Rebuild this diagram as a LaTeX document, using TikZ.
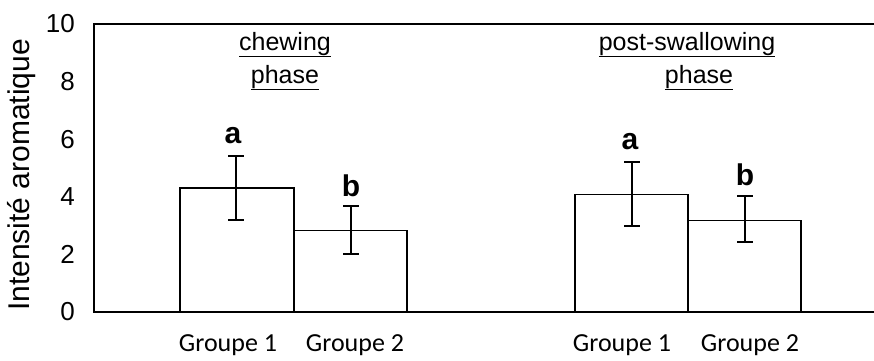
\documentclass[tikz,border=0pt]{standalone}
\usepackage{fontspec}
\setmainfont{Liberation Sans}
\newfontfamily\arialfont{Liberation Sans}
\newfontfamily\groupfont{Carlito}
\usepackage{tikz}
\usetikzlibrary{positioning}
\tikzstyle{axis} = [line width=1.6pt]
\tikzstyle{bar} = [draw, line width=1.4pt, fill=white]
\tikzstyle{errbar} = [line width=2.2pt]
\tikzstyle{ticklabel} = [anchor=east, inner sep=0pt, font=\arialfont\fontsize{26}{30}\selectfont]
\tikzstyle{letter} = [anchor=base, inner sep=0pt, font=\arialfont\bfseries\fontsize{30}{34}\selectfont]
\tikzstyle{phase} = [anchor=base, inner sep=0pt, font=\arialfont\fontsize{25}{29}\selectfont]
\tikzstyle{group} = [inner sep=0pt, font=\groupfont\fontsize{26}{30}\selectfont]

\begin{document}
\begin{tikzpicture}[x=1pt, y=1pt]
    \useasboundingbox (0,0) rectangle (874,360);
    % Axis label
    \node (ylabel) [rotate=90, font=\arialfont\fontsize{30}{34}\selectfont] at (22,185) {Intensité aromatique};
    \begin{scope}[shift={(94,48)}, y=28.8pt]
        % Frame
        \draw [axis] (780,10) -- (0,10) -- (0,0) -- (780,0);
        % Tick labels
        \node (t0) [ticklabel] at (-19,0) {0};
        \node (t2) [ticklabel] at (-19,2) {2};
        \node (t4) [ticklabel] at (-19,4) {4};
        \node (t6) [ticklabel] at (-19,6) {6};
        \node (t8) [ticklabel] at (-19,8) {8};
        \node (t10) [ticklabel] at (-19,10) {10};
        % Bars
        \draw [bar] (86,0) rectangle (200,4.30);
        \draw [bar] (200,0) rectangle (313,2.82);
        \draw [bar] (481,0) rectangle (594,4.09);
        \draw [bar] (594,0) rectangle (707,3.18);
        % Error bars
        \coordinate (c1lo) at (142,3.19);
        \coordinate (c1hi) at (142,5.42);
        \coordinate (c2lo) at (257,2.01);
        \coordinate (c2hi) at (257,3.68);
        \coordinate (s1lo) at (538,2.99);
        \coordinate (s1hi) at (538,5.21);
        \coordinate (s2lo) at (651,2.43);
        \coordinate (s2hi) at (651,4.03);
        \draw [errbar] (c1lo) -- (c1hi) ([xshift=-8pt]c1lo) -- ([xshift=8pt]c1lo) ([xshift=-8pt]c1hi) -- ([xshift=8pt]c1hi);
        \draw [errbar] (c2lo) -- (c2hi) ([xshift=-8pt]c2lo) -- ([xshift=8pt]c2lo) ([xshift=-8pt]c2hi) -- ([xshift=8pt]c2hi);
        \draw [errbar] (s1lo) -- (s1hi) ([xshift=-8pt]s1lo) -- ([xshift=8pt]s1lo) ([xshift=-8pt]s1hi) -- ([xshift=8pt]s1hi);
        \draw [errbar] (s2lo) -- (s2hi) ([xshift=-8pt]s2lo) -- ([xshift=8pt]s2lo) ([xshift=-8pt]s2hi) -- ([xshift=8pt]s2hi);
        % Letters
        \node (c1lab) [letter] at ([xshift=-3pt, yshift=12pt]c1hi) {a};
        \node (c2lab) [letter] at ([yshift=10pt]c2hi) {b};
        \node (s1lab) [letter] at ([xshift=-2pt, yshift=12pt]s1hi) {a};
        \node (s2lab) [letter] at ([yshift=10pt]s2hi) {b};
        % Phases
        \node (chew) [phase] at (191,262pt) {\underline{chewing}};
        \node (chewphase) [phase] at (191,229pt) {\underline{phase}};
        \node (swal) [phase] at (593,262pt) {\underline{post-swallowing}};
        \node (swalphase) [phase] at (605,229pt) {\underline{phase}};
        % Groups
        \node (g1c) [group] at (134,-33pt) {Groupe 1};
        \node (g2c) [group] at (261,-33pt) {Groupe 2};
        \node (g1s) [group] at (528,-33pt) {Groupe 1};
        \node (g2s) [group] at (656,-33pt) {Groupe 2};
    \end{scope}
\end{tikzpicture}
\end{document}
